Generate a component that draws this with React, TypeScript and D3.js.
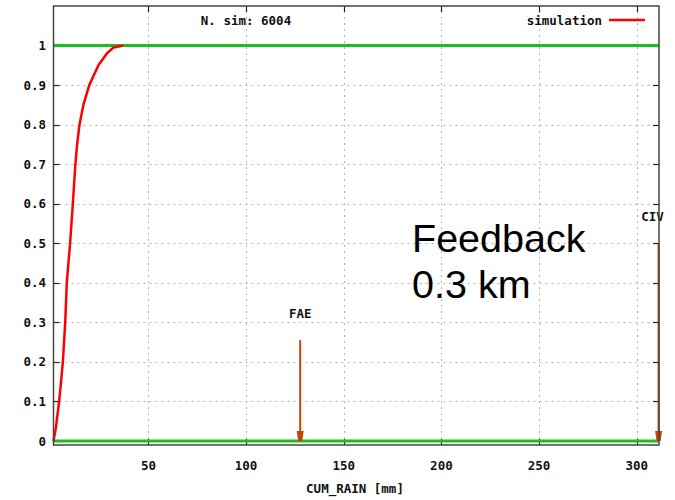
import { useEffect, useRef } from "react";
import * as d3 from "d3";

// CDF of cumulative rain (simulation)
const cdfRain = [1.4, 2.5, 4.3, 6.2, 7.4, 8.2, 9.9, 11.3, 12.6, 13.5, 14.7, 16.7, 19.7, 24.4, 28.7, 32.1, 37.2];
const cdfProb = [0, 0.03, 0.1, 0.2, 0.3, 0.4, 0.5, 0.6, 0.7, 0.75, 0.8, 0.85, 0.9, 0.95, 0.98, 0.995, 1];

// reference levels drawn as green lines
const refLevels = [0, 1];

// threshold arrows
const arrowNames = ["FAE", "CIV"];
const arrowRain = [127.7, 311.2];
const arrowTop = [0.255, 0.5];

const xTicks = [50, 100, 150, 200, 250, 300];
const yTicks = [0, 0.1, 0.2, 0.3, 0.4, 0.5, 0.6, 0.7, 0.8, 0.9, 1];

const titleText = "N. sim: 6004";
const legendText = "simulation";
const xLabel = "CUM_RAIN [mm]";
const noteLines = ["Feedback", "0.3 km"];

export default function App() {
    const svgRef = useRef<SVGSVGElement>(null);

    useEffect(() => {
        const svg = d3.select(svgRef.current);
        svg.selectAll("*").remove();

        const width = 675;
        const height = 500;
        const left = 53.5;
        const right = 659;
        const top = 6;
        const bottom = 445;
        const mono = "'DejaVu Sans Mono', monospace";
        const fs = 12.5;

        const x = d3.scaleLinear().domain([1.4, 311.4]).range([left, right]);
        const y = d3.scaleLinear().domain([-0.01, 1.1]).range([bottom, top]);

        svg.attr("width", width).attr("height", height);
        svg.append("rect").attr("width", width).attr("height", height).attr("fill", "#fff");

        // grid
        const grid = svg.append("g").attr("stroke", "#b4b4b4").attr("stroke-width", 1)
            .attr("stroke-dasharray", "2,4");
        grid.selectAll(".gx").data(xTicks).join("line")
            .attr("x1", (d) => Math.round(x(d)) + 0.5).attr("x2", (d) => Math.round(x(d)) + 0.5)
            .attr("y1", bottom).attr("y2", top);
        grid.selectAll(".gy").data(yTicks).join("line")
            .attr("x1", left).attr("x2", right)
            .attr("y1", (d) => Math.round(y(d)) + 0.5).attr("y2", (d) => Math.round(y(d)) + 0.5);

        // tick marks (inward, mirrored)
        const ticks = svg.append("g").attr("stroke", "#222").attr("stroke-width", 1.2);
        xTicks.forEach((d) => {
            const px = Math.round(x(d)) + 0.5;
            ticks.append("line").attr("x1", px).attr("x2", px).attr("y1", bottom).attr("y2", bottom - 6);
            ticks.append("line").attr("x1", px).attr("x2", px).attr("y1", top).attr("y2", top + 6);
        });
        yTicks.forEach((d) => {
            const py = Math.round(y(d)) + 0.5;
            ticks.append("line").attr("x1", left).attr("x2", left + 6).attr("y1", py).attr("y2", py);
            ticks.append("line").attr("x1", right).attr("x2", right - 6).attr("y1", py).attr("y2", py);
        });

        // tick labels
        svg.append("g").selectAll("text").data(yTicks).join("text")
            .attr("x", 46).attr("y", (d) => y(d)).attr("dy", "0.36em")
            .attr("text-anchor", "end").attr("font-family", mono).attr("font-weight", "bold")
            .attr("font-size", fs).attr("fill", "#111")
            .text((d) => d3.format("~g")(d));
        svg.append("g").selectAll("text").data(xTicks).join("text")
            .attr("x", (d) => x(d)).attr("y", 469.5)
            .attr("text-anchor", "middle").attr("font-family", mono).attr("font-weight", "bold")
            .attr("font-size", fs).attr("fill", "#111")
            .text((d) => d);

        svg.append("text").attr("x", 355).attr("y", 492.5).attr("text-anchor", "middle")
            .attr("font-family", mono).attr("font-weight", "bold").attr("font-size", fs)
            .attr("fill", "#111").text(xLabel);

        // green reference lines
        svg.append("g").selectAll("line").data(refLevels).join("line")
            .attr("x1", left).attr("x2", right)
            .attr("y1", (d) => y(d)).attr("y2", (d) => y(d))
            .attr("stroke", "#1cc01c").attr("stroke-width", 3);

        // CDF curve
        const pts: [number, number][] = cdfRain.map((r, i) => [r, cdfProb[i]]);
        const line = d3.line<[number, number]>().x((d) => x(d[0])).y((d) => y(d[1]));
        svg.append("path").attr("d", line(pts)).attr("fill", "none")
            .attr("stroke", "#ff0000").attr("stroke-width", 2.5).attr("stroke-linejoin", "round");

        // arrows
        const arrowColor = "#c84400";
        arrowNames.forEach((name, i) => {
            const ax = x(arrowRain[i]);
            const y0 = y(arrowTop[i]);
            const y1 = y(0);
            svg.append("line").attr("x1", ax).attr("x2", ax).attr("y1", y0).attr("y2", y1 - 8)
                .attr("stroke", arrowColor).attr("stroke-width", 2);
            svg.append("path")
                .attr("d", `M${ax - 3.5},${y1 - 10} L${ax + 3.5},${y1 - 10} L${ax + 2},${y1} L${ax - 2},${y1} Z`)
                .attr("fill", arrowColor);
            svg.append("text")
                .attr("x", i === 0 ? ax : ax - 6).attr("y", y0 - 22)
                .attr("text-anchor", "middle").attr("font-family", mono).attr("font-weight", "bold")
                .attr("font-size", fs).attr("fill", "#111").text(name);
        });

        // frame
        svg.append("rect").attr("x", left).attr("y", top)
            .attr("width", right - left).attr("height", bottom - top)
            .attr("fill", "none").attr("stroke", "#444").attr("stroke-width", 1.5);

        // title and legend
        svg.append("text").attr("x", 246).attr("y", 24.5).attr("text-anchor", "middle")
            .attr("font-family", mono).attr("font-weight", "bold").attr("font-size", fs)
            .attr("fill", "#111").text(titleText);
        svg.append("text").attr("x", 602).attr("y", 24.5).attr("text-anchor", "end")
            .attr("font-family", mono).attr("font-weight", "bold").attr("font-size", fs)
            .attr("fill", "#111").text(legendText);
        svg.append("line").attr("x1", 609).attr("x2", 645).attr("y1", 20).attr("y2", 20)
            .attr("stroke", "#ff0000").attr("stroke-width", 2.5);

        // note
        svg.append("g").selectAll("text").data(noteLines).join("text")
            .attr("x", 412).attr("y", (d, i) => 252 + i * 45.5)
            .attr("font-family", "'Liberation Sans', Arial, sans-serif").attr("font-size", 39.5)
            .attr("fill", "#000").text((d) => d);
    }, []);

    return (
        <div style={{ position: "absolute", left: 0, top: 0 }}>
            <svg ref={svgRef} />
        </div>
    );
}
